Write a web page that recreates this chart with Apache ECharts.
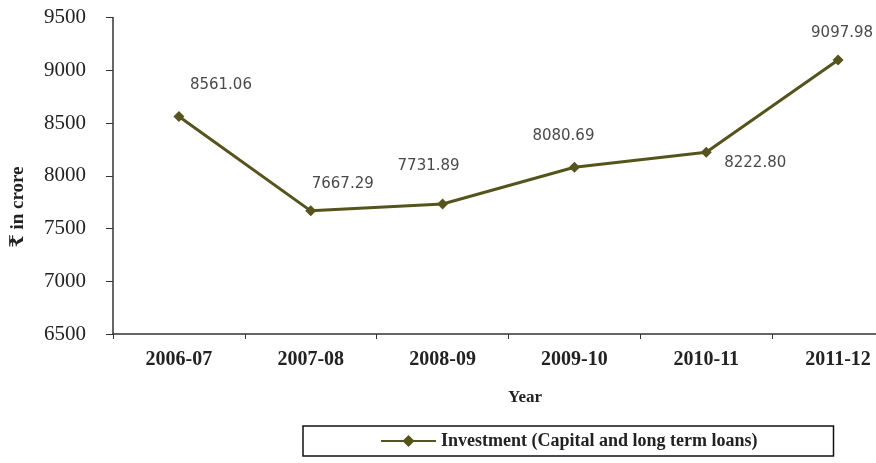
<!DOCTYPE html>
<html>
<head>
<meta charset="utf-8">
<script src="https://cdn.jsdelivr.net/npm/echarts@6/dist/echarts.min.js"></script>
<style>
html,body{margin:0;padding:0;background:#fff;}
#chart{width:876px;height:463px;}
</style>
</head>
<body>
<div id="chart"></div>
<script>
var categories = ['2006-07', '2007-08', '2008-09', '2009-10', '2010-11', '2011-12'];
var investment = [8561.06, 7667.29, 7731.89, 8080.69, 8222.80, 9097.98];
var valueLabels = ['8561.06', '7667.29', '7731.89', '8080.69', '8222.80', '9097.98'];
var yTicks = [6500, 7000, 7500, 8000, 8500, 9000, 9500];
var seriesName = 'Investment (Capital and long term loans)';
var yAxisTitle = '₹ in crore';
var xAxisTitle = 'Year';

var labelOffsets = [[42, -31], [32, -27], [-14, -38], [-11, -31], [49, 11], [4, -27]];
var lineColor = '#55541c';
var serif = '"Liberation Serif", "Times New Roman", "DejaVu Serif", serif';

var chart = echarts.init(document.getElementById('chart'));
var seriesData = investment.map(function (v, i) {
  return {
    value: v,
    label: {
      show: true,
      position: 'inside',
      offset: labelOffsets[i],
      formatter: valueLabels[i]
    }
  };
});

chart.setOption({
  animation: false,
  backgroundColor: '#fff',
  grid: { left: 113, right: -28, top: 17.5, bottom: 129, containLabel: false, outerBoundsMode: 'none' },
  legend: {
    data: [seriesName],
    left: 303,
    top: 426,
    padding: [6, 76, 6, 77],
    borderColor: '#111',
    borderWidth: 1.5,
    itemWidth: 55,
    itemHeight: 15,
    itemGap: 5,
    textStyle: { fontFamily: serif, fontWeight: 'bold', fontSize: 18, color: '#222' }
  },
  xAxis: {
    type: 'category',
    data: categories,
    boundaryGap: true,
    axisLine: { lineStyle: { color: '#333', width: 1.5 } },
    axisTick: { show: true, alignWithLabel: false, length: 5, lineStyle: { color: '#333', width: 1 } },
    axisLabel: { margin: 16, fontFamily: serif, fontWeight: 'bold', fontSize: 20, color: '#222' }
  },
  yAxis: {
    type: 'value',
    min: yTicks[0],
    max: yTicks[yTicks.length - 1],
    interval: 500,
    splitLine: { show: false },
    axisLine: { show: true, lineStyle: { color: '#333', width: 1.5 } },
    axisTick: { show: true, length: 7, lineStyle: { color: '#333', width: 1 } },
    axisLabel: {
      margin: 27, fontFamily: serif, fontSize: 21, color: '#222',
      formatter: function (v) { return String(v); }
    }
  },
  graphic: [
    {
      type: 'text',
      position: [18, 207],
      rotation: Math.PI / 2,
      style: {
        text: yAxisTitle,
        fontFamily: serif, fontWeight: 'bold', fontSize: 19, fill: '#222',
        textAlign: 'center', textVerticalAlign: 'middle'
      }
    },
    {
      type: 'text',
      position: [525, 398],
      style: {
        text: xAxisTitle,
        fontFamily: serif, fontWeight: 'bold', fontSize: 17, fill: '#222',
        textAlign: 'center', textVerticalAlign: 'middle'
      }
    }
  ],
  series: [{
    name: seriesName,
    type: 'line',
    data: seriesData,
    symbol: 'diamond',
    symbolSize: 11,
    lineStyle: { color: lineColor, width: 3 },
    itemStyle: { color: lineColor },
    label: {
      fontFamily: '"DejaVu Sans", sans-serif',
      fontSize: 15,
      color: '#4a4a4a'
    }
  }]
});
</script>
</body>
</html>
